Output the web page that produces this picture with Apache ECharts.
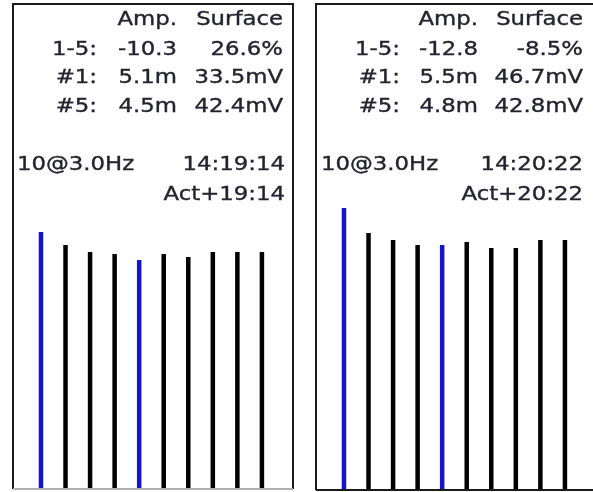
<!DOCTYPE html>
<html>
<head>
<meta charset="utf-8">
<script src="https://cdn.jsdelivr.net/npm/echarts@6/dist/echarts.min.js"></script>
<style>html,body{margin:0;padding:0;background:#fff}#c{width:593px;height:492px}</style>
</head>
<body>
<div id="c"></div>
<script>
const categories = ['1','2','3','4','5','6','7','8','9','10'];
const leftValues  = [257, 244, 237, 235, 229, 235, 232, 237, 237, 237];
const rightValues = [282, 257, 250, 245, 245, 248, 242, 242, 250, 250];
const highlighted = [0, 4];

const header = ['Amp.', 'Surface'];
const rowLabels = ['1-5:', '#1:', '#5:'];
const leftAmp  = ['-10.3', '5.1m', '4.5m'];
const leftSurf = ['26.6%', '33.5mV', '42.4mV'];
const rightAmp  = ['-12.8', '5.5m', '4.8m'];
const rightSurf = ['-8.5%', '46.7mV', '42.8mV'];
const rateText = '10@3.0Hz';
const leftTimes  = ['14:19:14', 'Act+19:14'];
const rightTimes = ['14:20:22', 'Act+20:22'];

const FONT = '19px "DejaVu Sans"';
const TXT = '#23232f';
const SX = 1.2;

function txt(s, x, y, align) {
  return { type: 'text', x: x, y: y, scaleX: SX, z: 10,
    style: { text: s, font: FONT, fill: TXT, stroke: TXT, lineWidth: 0.35,
      align: align || 'right', verticalAlign: 'middle' } };
}

function panelText(cols, amp, surf, times) {
  const out = [];
  const rowsY = [50, 78, 107];
  out.push(txt(header[0], cols.amp, 20));
  out.push(txt(header[1], cols.surf, 20));
  for (let i = 0; i < 3; i++) {
    out.push(txt(rowLabels[i], cols.lab, rowsY[i]));
    out.push(txt(amp[i], cols.amp, rowsY[i]));
    out.push(txt(surf[i], cols.surf, rowsY[i]));
  }
  out.push(txt(rateText, cols.rate, 165, 'left'));
  out.push(txt(times[0], cols.time, 165));
  out.push(txt(times[1], cols.time, 195));
  return out;
}

function barData(vals) {
  return vals.map((v, i) => ({
    value: v,
    itemStyle: { color: highlighted.indexOf(i) >= 0 ? '#1414cc' : '#000000' }
  }));
}

const graphics = [].concat(
  panelText({lab: 97, amp: 177, surf: 283, rate: 17, time: 285}, leftAmp, leftSurf, leftTimes),
  panelText({lab: 400, amp: 478, surf: 583, rate: 321, time: 583}, rightAmp, rightSurf, rightTimes),
  [
    { type: 'polyline', z: 5, shape: { points: [[13, 489], [13, 4], [293, 4], [293, 489]] },
      style: { stroke: '#1a1a1a', lineWidth: 2, fill: null } },
    { type: 'line', z: 5, shape: { x1: 13, y1: 489, x2: 293, y2: 489 },
      style: { stroke: '#b0b0b0', lineWidth: 2 } },
    { type: 'polyline', z: 5, shape: { points: [[316, 490], [316, 4], [600, 4]] },
      style: { stroke: '#1a1a1a', lineWidth: 2, fill: null } },
    { type: 'line', z: 5, shape: { x1: 316, y1: 490, x2: 600, y2: 490 },
      style: { stroke: '#1a1a1a', lineWidth: 2 } }
  ]
);

const chart = echarts.init(document.getElementById('c'), null, { renderer: 'canvas' });
const axisX = (gi) => ({ type: 'category', gridIndex: gi, data: categories,
  axisLine: { show: false }, axisTick: { show: false }, axisLabel: { show: false } });
const axisY = (gi) => ({ type: 'value', gridIndex: gi, min: 0, max: 486,
  axisLine: { show: false }, axisTick: { show: false }, axisLabel: { show: false }, splitLine: { show: false } });

chart.setOption({
  animation: false,
  backgroundColor: '#ffffff',
  grid: [
    { left: 28.7, width: 245.5, top: 3, bottom: 3 },
    { left: 331.7, width: 245.5, top: 4, bottom: 2 }
  ],
  xAxis: [axisX(0), axisX(1)],
  yAxis: [axisY(0), axisY(1)],
  series: [
    { type: 'bar', xAxisIndex: 0, yAxisIndex: 0, barWidth: 4.5, data: barData(leftValues) },
    { type: 'bar', xAxisIndex: 1, yAxisIndex: 1, barWidth: 4.5, data: barData(rightValues) }
  ],
  graphic: graphics
});
</script>
</body>
</html>
